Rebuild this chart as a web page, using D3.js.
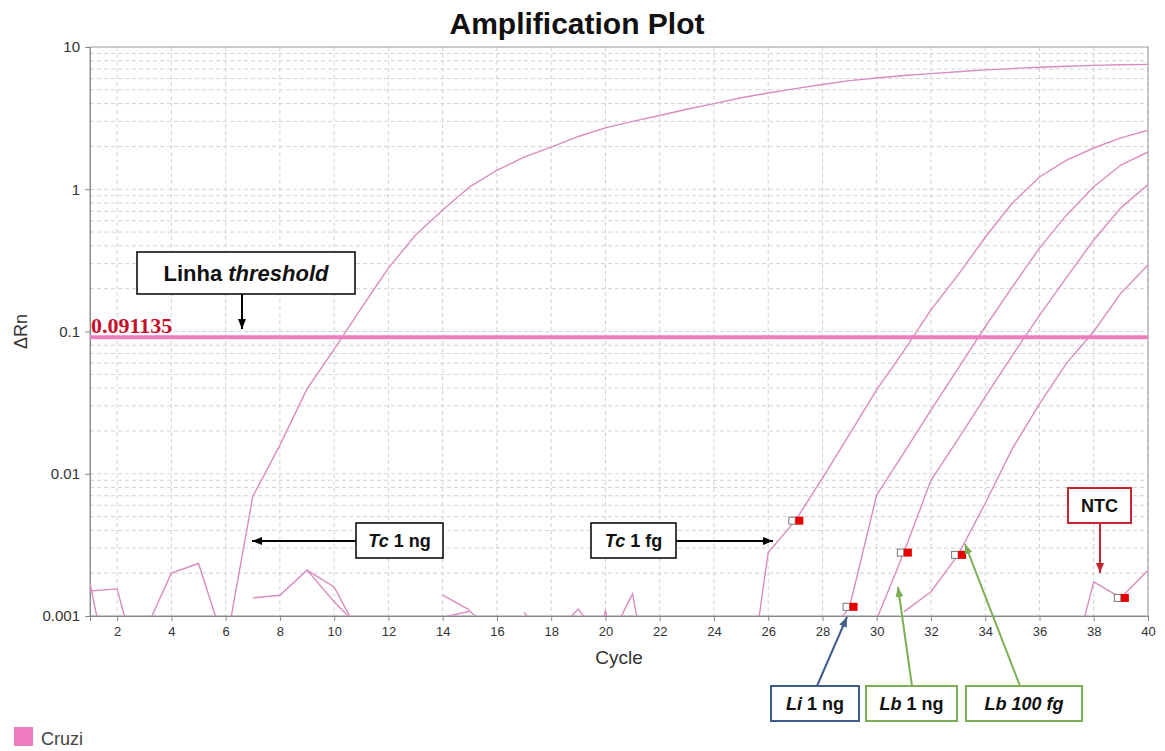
<!DOCTYPE html>
<html>
<head>
<meta charset="utf-8">
<script src="https://cdn.jsdelivr.net/npm/d3@7"></script>
<style>
  body { margin: 0; background: #fff; }
  text { font-family: "Liberation Sans", Arial, sans-serif; }
</style>
</head>
<body>
<div id="chart"></div>
<script>
// cycles and ΔRn values (null = negative ΔRn, not drawn on log scale)
let cycles = [1, 2, 3, 4, 5, 6, 7, 8, 9, 10, 11, 12, 13, 14, 15, 16, 17, 18, 19, 20,
  21, 22, 23, 24, 25, 26, 27, 28, 29, 30, 31, 32, 33, 34, 35, 36, 37, 38, 39, 40];

let tcNg = [0.0017, 0.0002, 0.00076, 0.002, 0.00234, 0.0006, 0.0069, 0.0159, 0.0395, 0.075,
  0.146, 0.279, 0.477, 0.714, 1.04, 1.36, 1.68, 1.98, 2.35, 2.7,
  3.0, 3.3, 3.65, 4.0, 4.4, 4.75, 5.1, 5.45, 5.8, 6.05,
  6.3, 6.5, 6.7, 6.9, 7.05, 7.2, 7.32, 7.43, 7.5, 7.55];

let tcFg = [0.0015, 0.00155, 0.0003, null, null, null, null, null, null, null,
  null, null, null, null, null, null, null, null, null, null,
  null, null, null, null, 0.000125, 0.00279, 0.00468, 0.0093, 0.019, 0.039,
  0.073, 0.142, 0.25, 0.46, 0.8, 1.22, 1.6, 1.95, 2.3, 2.6];

let liNg = [null, null, null, null, null, null, 0.00134, 0.0014, 0.0021, 0.0016,
  0.0007, null, null, 0.0014, 0.0011, null, null, 0.0007, 0.00112, 0.0006,
  null, null, null, null, null, null, null, 0.00063, 0.00116, 0.0071,
  0.014, 0.028, 0.055, 0.108, 0.206, 0.386, 0.66, 1.04, 1.48, 1.83];

let lbNg = [null, null, null, null, null, null, null, null, 0.0021, 0.00126,
  0.0008, null, null, 0.00098, 0.00108, 0.00074, null, null, 0.0001, 0.0011,
  0.0001, null, null, null, null, null, null, null, 0.0002, 0.00095,
  0.00279, 0.009, 0.0175, 0.0347, 0.068, 0.13, 0.24, 0.44, 0.74, 1.08];

let lb100Fg = [null, null, null, null, null, null, null, null, null, null,
  null, null, null, null, null, null, 0.00106, 0.0006, null, 0.0006,
  0.00143, 0.00013, null, null, null, null, null, null, null, null,
  0.00107, 0.00148, 0.00269, 0.0062, 0.015, 0.031, 0.06, 0.1, 0.186, 0.293];

let ntc = [null, null, null, null, null, null, null, null, null, null,
  null, null, null, null, null, null, null, null, null, null,
  null, null, null, null, null, null, null, null, null, null,
  null, null, null, null, null, null, 0.00032, 0.00174, 0.00134, 0.0021];

let series = [tcNg, tcFg, liNg, lbNg, lb100Fg, ntc];
let ctCycles = [null, 27, 29, 31, 33, 39];
let threshold = 0.091135;

let yTicks = [0.001, 0.01, 0.1, 1, 10];
let yTickLabels = ["0.001", "0.01", "0.1", "1", "10"];
let xTicks = [2, 4, 6, 8, 10, 12, 14, 16, 18, 20, 22, 24, 26, 28, 30, 32, 34, 36, 38, 40];

let margin = { top: 47, right: 17, bottom: 135, left: 90 };
let width = 1165 - margin.left - margin.right;
let height = 751 - margin.top - margin.bottom;

let curveColor = "#d98cbf";
let pink = "#f07cc0";

let root = d3
  .select("#chart")
  .append("svg")
  .attr("width", 1165)
  .attr("height", 751)
  .style("background", "#fff");

let svg = root
  .append("g")
  .attr("transform", "translate(" + margin.left + "," + margin.top + ")");

let x = d3.scaleLinear().domain([1, 40]).range([0, width]);
let y = d3.scaleLog().domain([0.001, 10]).range([height, 0]);

// grid
let minor = [];
[0.001, 0.01, 0.1, 1].forEach((dec) => {
  for (let k = 1; k <= 9; k++) minor.push(dec * k);
});

svg
  .append("g")
  .selectAll("line")
  .data(minor)
  .enter()
  .append("line")
  .attr("x1", 0)
  .attr("x2", width)
  .attr("y1", (d) => y(d))
  .attr("y2", (d) => y(d))
  .attr("stroke", "#d2d2d2")
  .attr("stroke-dasharray", "4,3");

svg
  .append("g")
  .selectAll("line")
  .data(xTicks)
  .enter()
  .append("line")
  .attr("x1", (d) => x(d))
  .attr("x2", (d) => x(d))
  .attr("y1", 0)
  .attr("y2", height)
  .attr("stroke", "#d2d2d2")
  .attr("stroke-dasharray", "4,3");

// frame
svg
  .append("rect")
  .attr("width", width)
  .attr("height", height)
  .attr("fill", "none")
  .attr("stroke", "#999");

// axes
let yAxis = svg
  .append("g")
  .call(
    d3.axisLeft(y)
      .tickValues(yTicks)
      .tickFormat((d, i) => yTickLabels[i])
      .tickSize(5)
      .tickPadding(5)
  );

let xAxis = svg
  .append("g")
  .attr("transform", "translate(0," + height + ")")
  .call(d3.axisBottom(x).tickValues(xTicks).tickSize(5).tickPadding(6));

[yAxis, xAxis].forEach((a) => {
  a.select(".domain").attr("stroke", "#888");
  a.selectAll(".tick line").attr("stroke", "#888");
  a.selectAll(".tick text").attr("fill", "#333").style("font-family", "Liberation Sans, Arial, sans-serif");
});
yAxis.selectAll(".tick text").style("font-size", "15px");
xAxis.selectAll(".tick text").style("font-size", "13px");

// curves
svg
  .append("clipPath")
  .attr("id", "plotClip")
  .append("rect")
  .attr("width", width)
  .attr("height", height);

let line = d3
  .line()
  .defined((d) => d.v != null && d.v > 0)
  .x((d) => x(d.c))
  .y((d) => y(d.v));

let curves = svg.append("g").attr("clip-path", "url(#plotClip)");

curves
  .selectAll(".curve")
  .data(series)
  .enter()
  .append("path")
  .attr("class", "curve")
  .attr("fill", "none")
  .attr("stroke", curveColor)
  .attr("stroke-width", 1.4)
  .attr("d", (s) => line(s.map((v, i) => ({ c: cycles[i], v: v }))));

// threshold
svg
  .append("line")
  .attr("x1", 0)
  .attr("x2", width)
  .attr("y1", y(threshold))
  .attr("y2", y(threshold))
  .attr("stroke", pink)
  .attr("stroke-width", 4);

svg
  .append("text")
  .attr("x", 1)
  .attr("y", y(threshold) - 4)
  .attr("fill", "#c8102e")
  .style("font-family", "Liberation Serif, Times New Roman, serif")
  .style("font-weight", "bold")
  .style("font-size", "22px")
  .text(threshold);

// Ct markers
let cts = series
  .map((s, i) => ({ c: ctCycles[i], v: ctCycles[i] ? s[cycles.indexOf(ctCycles[i])] : null }))
  .filter((d) => d.c != null);

let mk = svg.append("g").selectAll("g").data(cts).enter().append("g");
mk.append("rect")
  .attr("x", (d) => x(d.c) - 6.5)
  .attr("y", (d) => y(d.v) - 3.5)
  .attr("width", 6.5)
  .attr("height", 7)
  .attr("fill", "#fff")
  .attr("stroke", "#777")
  .attr("stroke-width", 1);
mk.append("rect")
  .attr("x", (d) => x(d.c))
  .attr("y", (d) => y(d.v) - 4)
  .attr("width", 8)
  .attr("height", 8)
  .attr("fill", "#e60000");

// titles
root
  .append("text")
  .attr("x", 577)
  .attr("y", 34)
  .attr("text-anchor", "middle")
  .style("font-size", "30px")
  .style("font-weight", "bold")
  .attr("fill", "#111")
  .text("Amplification Plot");

root
  .append("text")
  .attr("x", margin.left + width / 2)
  .attr("y", 664)
  .attr("text-anchor", "middle")
  .style("font-size", "19px")
  .attr("fill", "#333")
  .text("Cycle");

root
  .append("text")
  .attr("transform", "translate(27," + (margin.top + height / 2) + ") rotate(-90)")
  .attr("text-anchor", "middle")
  .style("font-size", "18px")
  .attr("fill", "#333")
  .text("ΔRn");

// legend
root.append("rect").attr("x", 14).attr("y", 727).attr("width", 19).attr("height", 19).attr("fill", pink);
root
  .append("text")
  .attr("x", 41)
  .attr("y", 745)
  .style("font-size", "18px")
  .attr("fill", "#444")
  .text("Cruzi");

// annotation boxes and arrows
let notes = [
  { parts: [["Linha ", "normal"], ["threshold", "italic"]], box: [137, 252, 218, 42], color: "#000", size: 22, from: [242, 294], to: [242, 329] },
  { parts: [["Tc", "italic"], [" 1 ng", "normal"]], box: [356, 523, 87, 35], color: "#000", size: 18, from: [356, 541], to: [252, 541] },
  { parts: [["Tc", "italic"], [" 1 fg", "normal"]], box: [591, 523, 85, 35], color: "#000", size: 18, from: [676, 541], to: [773, 541] },
  { parts: [["NTC", "normal"]], box: [1068, 488, 63, 35], color: "#c0282d", size: 18, from: [1100, 523], to: [1100, 573] },
  { parts: [["Li", "italic"], [" 1 ng", "normal"]], box: [771, 686, 88, 35], color: "#3d5e8c", size: 18, from: [817, 686], to: [847, 617] },
  { parts: [["Lb", "italic"], [" 1 ng", "normal"]], box: [866, 686, 91, 35], color: "#7dae55", size: 18, from: [912, 686], to: [898, 587] },
  { parts: [["Lb 100 fg", "italic"]], box: [966, 686, 116, 35], color: "#7dae55", size: 18, from: [1020, 686], to: [965, 544] },
];

let defs = root.append("defs");
notes.forEach((n, i) => {
  defs
    .append("marker")
    .attr("id", "arrow" + i)
    .attr("viewBox", "0 0 10 8")
    .attr("refX", 10)
    .attr("refY", 4)
    .attr("markerWidth", 10)
    .attr("markerHeight", 8)
    .attr("markerUnits", "userSpaceOnUse")
    .attr("orient", "auto")
    .append("path")
    .attr("d", "M0,0L10,4L0,8Z")
    .attr("fill", n.color);
});

let ann = root.append("g").selectAll("g").data(notes).enter().append("g");

ann
  .append("line")
  .attr("x1", (d) => d.from[0])
  .attr("y1", (d) => d.from[1])
  .attr("x2", (d) => d.to[0])
  .attr("y2", (d) => d.to[1])
  .attr("stroke", (d) => d.color)
  .attr("stroke-width", 2)
  .attr("marker-end", (d, i) => "url(#arrow" + i + ")");

ann
  .append("rect")
  .attr("x", (d) => d.box[0])
  .attr("y", (d) => d.box[1])
  .attr("width", (d) => d.box[2])
  .attr("height", (d) => d.box[3])
  .attr("fill", "#fff")
  .attr("stroke", (d) => d.color)
  .attr("stroke-width", (d) => (d.color == "#000" ? 1.5 : 2));

ann
  .append("text")
  .attr("x", (d) => d.box[0] + d.box[2] / 2)
  .attr("y", (d) => d.box[1] + d.box[3] / 2)
  .attr("dy", "0.36em")
  .attr("text-anchor", "middle")
  .style("font-weight", "bold")
  .style("font-size", (d) => d.size + "px")
  .attr("fill", "#111")
  .each(function (d) {
    let t = d3.select(this);
    d.parts.forEach((p) => {
      t.append("tspan").style("font-style", p[1]).text(p[0]);
    });
  });
</script>
</body>
</html>
